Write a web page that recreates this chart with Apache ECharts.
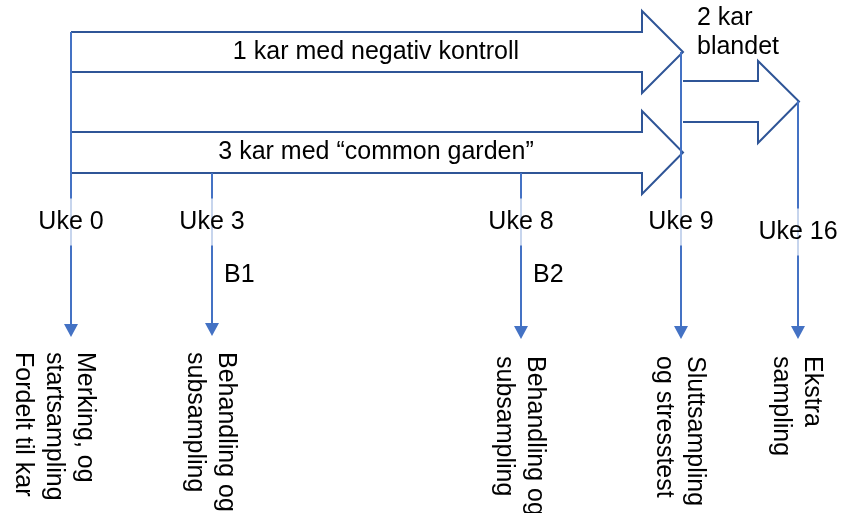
<!DOCTYPE html>
<html>
<head>
<meta charset="utf-8">
<script src="https://cdn.jsdelivr.net/npm/echarts@6/dist/echarts.min.js"></script>
<style>
  html, body { margin: 0; padding: 0; background: #fff; }
  #chart { width: 843px; height: 513px; }
</style>
</head>
<body>
<div id="chart"></div>
<script>
  // tidslinje: uker og hendelser
  const weeks = [0, 3, 8, 9, 16];
  const weekLabels = ['Uke 0', 'Uke 3', 'Uke 8', 'Uke 9', 'Uke 16'];
  const eventLabels = [
    'Merking, og\nstartsampling\nFordelt til kar',
    'Behandling og\nsubsampling',
    'Behandling og\nsubsampling',
    'Sluttsampling\nog stresstest',
    'Ekstra\nsampling',
  ];
  const treatmentLabels = ['', 'B1', 'B2', '', ''];
  const trackLabels = ['1 kar med negativ kontroll', '3 kar med \u201ccommon garden\u201d', '2 kar\nblandet'];

  // skjematisk plassering (diagram-enheter)
  const weekX = [71, 212, 521, 681, 798];
  const lineTop = [32, 173, 173, 52, 101];
  const lineEnd = [337, 336, 339, 339, 339];
  const weekLabelY = [222, 222, 222, 222, 232];
  const tracks = [
    { x0: 71, x1: 642, tip: 683, top: 32, bottom: 72, headTop: 11, headBottom: 93 },
    { x0: 71, x1: 642, tip: 683, top: 132, bottom: 173, headTop: 111, headBottom: 194 },
    { x0: 683, x1: 758, tip: 799, top: 81, bottom: 122, headTop: 61, headBottom: 143 },
  ];

  const outline = '#2F5597';
  const lineColor = '#4472C4';
  const font = '25px Liberation Sans, Arial, sans-serif';

  const chart = echarts.init(document.getElementById('chart'));

  const trackItem = (params, api) => {
    const t = tracks[params.dataIndex];
    const p = (x, y) => api.coord([x, y]);
    const mid = (t.top + t.bottom) / 2;
    const pts = [
      p(t.x0, t.top), p(t.x1, t.top), p(t.x1, t.headTop), p(t.tip, mid),
      p(t.x1, t.headBottom), p(t.x1, t.bottom), p(t.x0, t.bottom),
    ];
    const children = [{
      type: 'polyline',
      shape: { points: pts },
      style: { stroke: outline, lineWidth: 2, fill: null },
    }];
    if (params.dataIndex < 2) {
      const c = p((t.x0 + t.tip) / 2 - 1, mid);
      children.push({
        type: 'text',
        x: c[0], y: c[1],
        style: { text: trackLabels[params.dataIndex], fill: '#000', font, align: 'center', verticalAlign: 'middle' },
      });
    } else {
      const c = p(697, 33);
      children.push({
        type: 'text',
        x: c[0], y: c[1],
        style: { text: trackLabels[2], fill: '#000', font, align: 'left', verticalAlign: 'middle', lineHeight: 29 },
      });
    }
    return { type: 'group', children };
  };

  const weekItem = (params, api) => {
    const i = params.dataIndex;
    const x = weekX[i];
    const a = api.coord([x, lineTop[i]]);
    const b = api.coord([x, lineEnd[i]]);
    const children = [
      { type: 'line', shape: { x1: a[0], y1: a[1], x2: b[0], y2: b[1] - 10 }, style: { stroke: lineColor, lineWidth: 2 } },
      { type: 'polygon', shape: { points: [[b[0] - 7, b[1] - 13], [b[0] + 7, b[1] - 13], [b[0], b[1]]] }, style: { fill: lineColor } },
    ];
    const l = api.coord([x, weekLabelY[i]]);
    children.push({
      type: 'text',
      x: l[0], y: l[1],
      style: {
        text: weekLabels[i], fill: '#000', font, align: 'center', verticalAlign: 'middle',
        backgroundColor: 'rgba(255,255,255,0.7)', padding: [11, 0, 11, 0],
      },
    });
    if (treatmentLabels[i]) {
      const t = api.coord([x + 12, 275]);
      children.push({
        type: 'text', x: t[0], y: t[1],
        style: { text: treatmentLabels[i], fill: '#000', font, align: 'left', verticalAlign: 'middle' },
      });
    }
    const e = api.coord([x + 29, i < 2 ? 352 : 356]);
    children.push({
      type: 'text', x: e[0], y: e[1], rotation: -Math.PI / 2,
      style: { text: eventLabels[i], fill: '#000', font, align: 'left', verticalAlign: 'top', lineHeight: 31 },
    });
    return { type: 'group', children };
  };

  const option = {
    animation: false,
    grid: { left: 0, right: 0, top: 0, bottom: 0 },
    xAxis: { type: 'value', min: 0, max: 843, show: false },
    yAxis: { type: 'value', min: 0, max: 513, inverse: true, show: false },
    series: [
      { type: 'custom', renderItem: trackItem, data: tracks.map((t, i) => [t.x0, t.top, i]) },
      { type: 'custom', renderItem: weekItem, data: weeks.map((w, i) => [weekX[i], lineTop[i], w]) },
    ],
  };

  chart.setOption(option);
</script>
</body>
</html>
